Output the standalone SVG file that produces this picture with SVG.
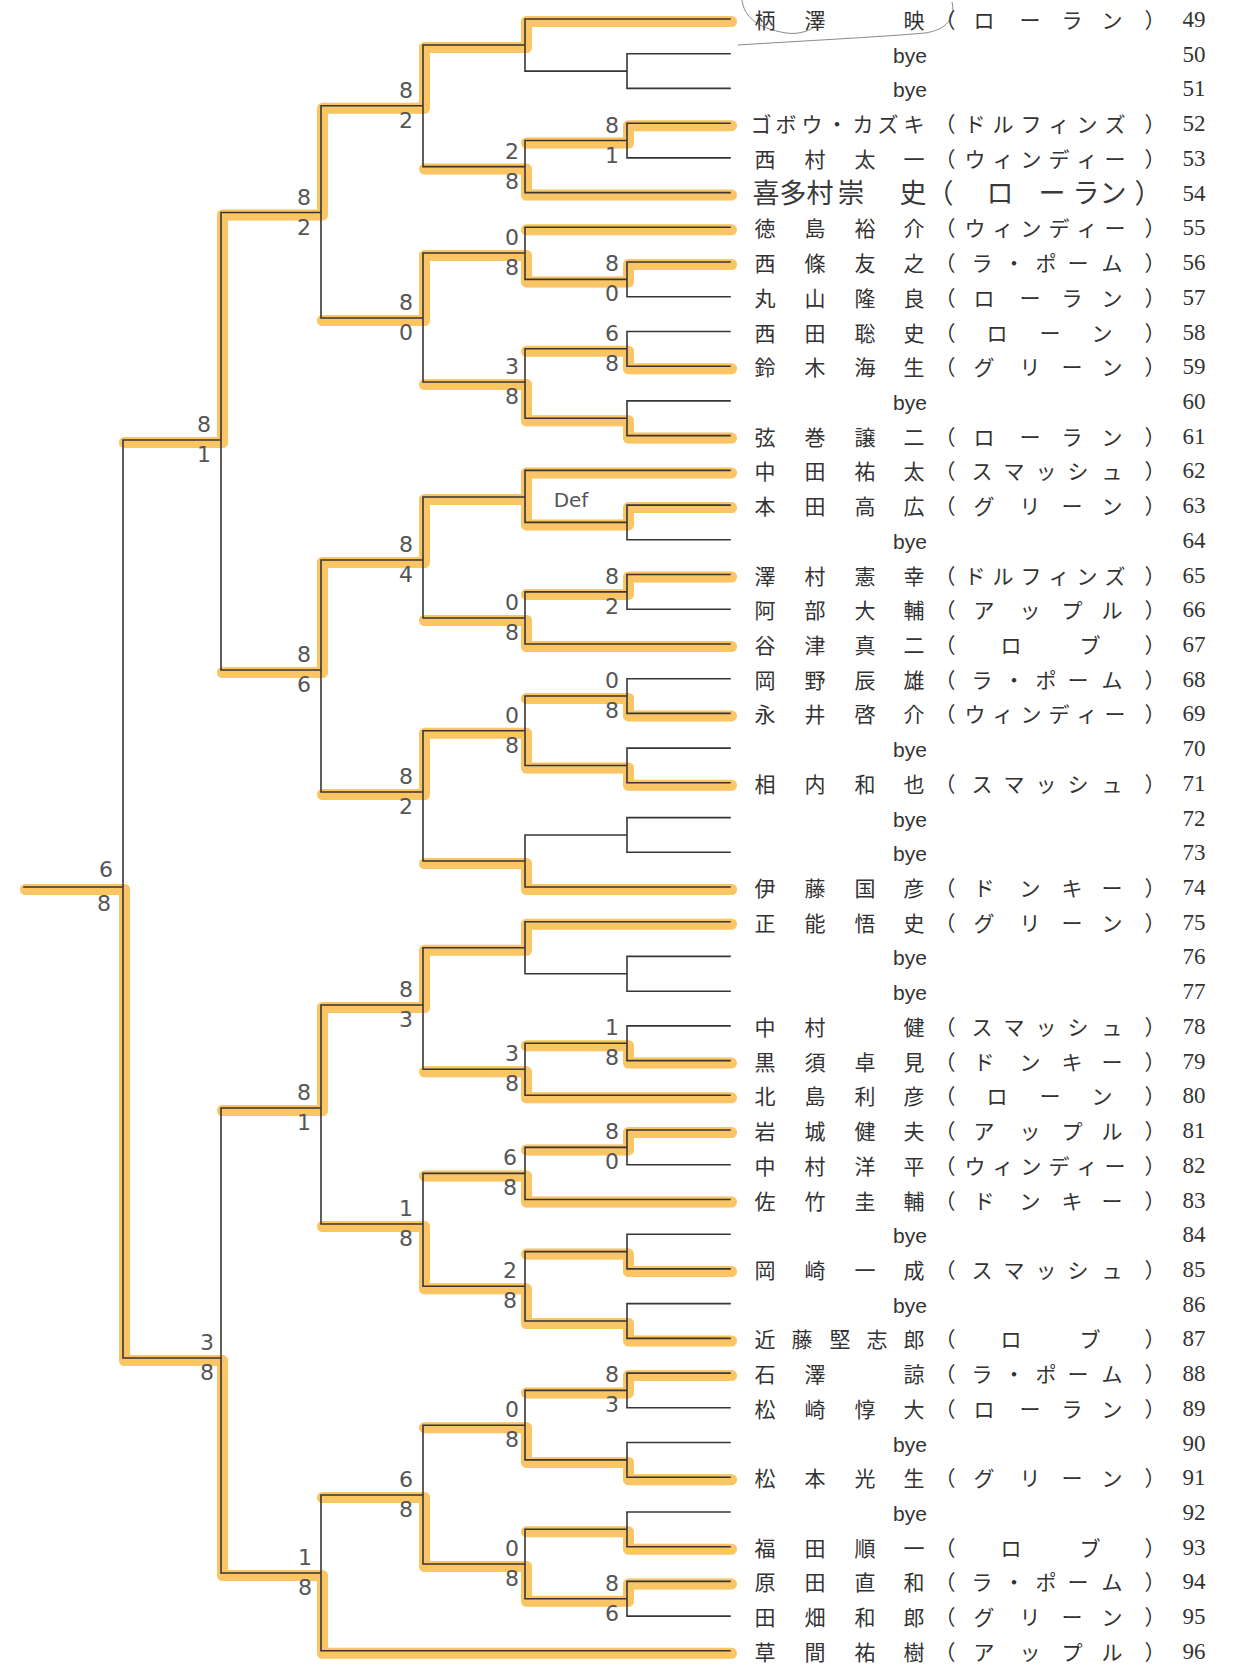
<svg xmlns="http://www.w3.org/2000/svg" width="1233" height="1668" viewBox="0 0 1233 1668">
<style>
.hl1{fill:none;stroke:#F7B231;stroke-width:11;opacity:.5;stroke-linejoin:round;stroke-linecap:round}
.hl2{fill:none;stroke:#FFDF63;stroke-width:6;stroke-linejoin:round;stroke-linecap:round}
.ln{fill:none;stroke:#3a3532;stroke-width:1.6;stroke-linecap:square;stroke-linejoin:miter}
.nm,.tm{font-family:"Noto Sans CJK JP","Noto Sans CJK SC",sans-serif;font-size:21px;fill:#333;text-anchor:middle}
.hw{font-family:"Noto Sans CJK JP","Noto Sans CJK SC",sans-serif;font-size:27px;fill:#3a3a3a;text-anchor:middle}
.no{font-family:"Liberation Serif",serif;font-size:23px;fill:#333;text-anchor:middle}
.bye{font-family:"Liberation Sans",Arial,sans-serif;font-size:21px;fill:#333;text-anchor:middle}
.sc{font-family:"DejaVu Sans",sans-serif;font-size:22px;fill:#555;text-anchor:middle}
.pen{fill:none;stroke:#8a8a8a;stroke-width:1}
</style>
<rect width="1233" height="1668" fill="#fff"/>
<g id="connectors">
<g id="highlight" transform="translate(1.5,2.5)">
<path id="hlpath" class="hl1" d="M525 19H730M627 123.2H730M525 192.6H730M525 227.3H730M627 262H730M627 366.2H730M627 435.6H730M525 470.4H730M627 505.1H730M627 574.5H730M525 644H730M627 713.4H730M627 782.8H730M525 887H730M525 921.7H730M627 1060.6H730M525 1095.3H730M627 1130H730M525 1199.5H730M627 1268.9H730M627 1338.4H730M627 1373.1H730M627 1477.2H730M627 1546.7H730M627 1581.4H730M321 1650.8H730
M525 19V45M423 45H525M627 123.2V140.5M525 140.5H627M525 166.6V192.6M423 166.6H525M423 45V105.8M321 105.8H423
M627 262V279.4M525 279.4H627M525 253V279.4M423 253H525M627 348.8V366.2M525 348.8H627M627 418.3V435.6M525 418.3H627M525 382V418.3M423 382H525M423 253V318M321 318H423M321 105.8V212.5M221 212.5H321
M627 505.1V522.4M525 522.4H627M525 470.4V522.4M423 497H525M627 574.5V591.9M525 591.9H627M525 618V644M423 618H525M423 497V560M321 560H423
M627 696V713.4M525 696H627M627 765.5V782.8M525 765.5H627M525 730.8V765.5M423 730.8H525M525 861V887M423 861H525M423 730.8V792M321 792H423M321 560V670M221 670H321M221 212.5V440M123 440H221
M525 921.7V947.8M423 947.8H525M627 1043.2V1060.6M525 1043.2H627M525 1069.3V1095.3M423 1069.3H525M423 947.8V1005M321 1005H423
M627 1130V1147.4M525 1147.4H627M525 1173.4V1199.5M423 1173.4H525M627 1251.6V1268.9M525 1251.6H627M627 1321V1338.4M525 1321H627M525 1286.3V1321M423 1286.3H525M423 1224V1286.3M321 1224H423M321 1005V1108M221 1108H321
M627 1373.1V1390.4M525 1390.4H627M627 1459.9V1477.2M525 1459.9H627M525 1425.2V1459.9M423 1425.2H525M627 1529.3V1546.7M525 1529.3H627M627 1581.4V1598.8M525 1598.8H627M525 1564V1598.8M423 1564H525M423 1495V1564M321 1495H423M321 1573V1650.8M221 1573H321M221 1358V1573M123 1358H221M123 887V1358M24 887H123"/>
<use href="#hlpath" class="hl2"/>
</g>
<path id="lines" class="ln" d="M730 53.7H627V88.4H730M525 71.1H627M730 123.2H627V157.9H730M525 140.5H627M730 262H627V296.8H730M525 279.4H627M730 331.5H627V366.2H730M525 348.8H627M730 400.9H627V435.6H730M525 418.3H627M730 505.1H627V539.8H730M525 522.4H627M730 574.5H627V609.2H730M525 591.9H627M730 678.7H627V713.4H730M525 696H627M730 748.1H627V782.8H730M525 765.5H627M730 817.6H627V852.3H730M525 835H627M730 956.4H627V991.2H730M525 973.8H627M730 1025.9H627V1060.6H730M525 1043.2H627M730 1130H627V1164.8H730M525 1147.4H627M730 1234.2H627V1268.9H730M525 1251.6H627M730 1303.6H627V1338.4H730M525 1321H627M730 1373.1H627V1407.8H730M525 1390.4H627M730 1442.5H627V1477.2H730M525 1459.9H627M730 1512H627V1546.7H730M525 1529.3H627M730 1581.4H627V1616.1H730M525 1598.8H627
M730 19H525V71.1M423 45H525M525 140.5V192.6H730M423 166.6H525M730 227.3H525V279.4M423 253H525M525 348.8V418.3M423 382H525M730 470.4H525V522.4M423 497H525M525 591.9V644H730M423 618H525M525 696V765.5M423 730.8H525M525 835V887H730M423 861H525M730 921.7H525V973.8M423 947.8H525M525 1043.2V1095.3H730M423 1069.3H525M525 1147.4V1199.5H730M423 1173.4H525M525 1251.6V1321M423 1286.3H525M525 1390.4V1459.9M423 1425.2H525M525 1529.3V1598.8M423 1564H525
M423 45V166.6M321 105.8H423M423 253V382M321 318H423M423 497V618M321 560H423M423 730.8V861M321 792H423M423 947.8V1069.3M321 1005H423M423 1173.4V1286.3M321 1224H423M423 1425.2V1564M321 1495H423
M321 105.8V318M221 212.5H321M321 560V792M221 670H321M321 1005V1224M221 1108H321M321 1495V1650.8H730M221 1573H321
M221 212.5V670M123 440H221M221 1108V1573M123 1358H221M123 440V1358M24 887H123"/>
</g>
<g id="scores" class="sc">
<text x="612" y="132.5">8</text><text x="612" y="162.5">1</text>
<text x="612" y="271.4">8</text><text x="612" y="301.4">0</text>
<text x="612" y="340.8">6</text><text x="612" y="370.8">8</text>
<text x="612" y="583.9">8</text><text x="612" y="613.9">2</text>
<text x="612" y="688">0</text><text x="612" y="718">8</text>
<text x="612" y="1035.2">1</text><text x="612" y="1065.2">8</text>
<text x="612" y="1139.4">8</text><text x="612" y="1169.4">0</text>
<text x="612" y="1382.4">8</text><text x="612" y="1412.4">3</text>
<text x="612" y="1590.8">8</text><text x="612" y="1620.8">6</text>
<text x="512" y="158.6">2</text><text x="512" y="188.6">8</text>
<text x="512" y="245">0</text><text x="512" y="275">8</text>
<text x="512" y="374">3</text><text x="512" y="404">8</text>
<text x="512" y="610">0</text><text x="512" y="640">8</text>
<text x="512" y="722.8">0</text><text x="512" y="752.8">8</text>
<text x="512" y="1061.3">3</text><text x="512" y="1091.3">8</text>
<text x="510" y="1165.4">6</text><text x="510" y="1195.4">8</text>
<text x="510" y="1278.3">2</text><text x="510" y="1308.3">8</text>
<text x="512" y="1417.2">0</text><text x="512" y="1447.2">8</text>
<text x="512" y="1556">0</text><text x="512" y="1586">8</text>
<text x="406" y="97.8">8</text><text x="406" y="127.8">2</text>
<text x="406" y="310">8</text><text x="406" y="340">0</text>
<text x="406" y="552">8</text><text x="406" y="582">4</text>
<text x="406" y="784">8</text><text x="406" y="814">2</text>
<text x="406" y="997">8</text><text x="406" y="1027">3</text>
<text x="406" y="1216">1</text><text x="406" y="1246">8</text>
<text x="406" y="1487">6</text><text x="406" y="1517">8</text>
<text x="304" y="204.5">8</text><text x="304" y="234.5">2</text>
<text x="304" y="662">8</text><text x="304" y="692">6</text>
<text x="304" y="1100">8</text><text x="304" y="1130">1</text>
<text x="305" y="1565">1</text><text x="305" y="1595">8</text>
<text x="204" y="432">8</text><text x="204" y="462">1</text>
<text x="207" y="1350">3</text><text x="207" y="1380">8</text>
<text x="106" y="877">6</text><text x="104" y="911">8</text>
<text x="571" y="507" font-size="20">Def</text>
</g>
<g id="pencil">
<path class="pen" d="M742 0C744 16 756 28 786 33C800 35 812 30 818 24"/>
<path class="pen" d="M738 45C800 41 880 37 925 33C946 30 956 18 952 2"/>
</g>
<g id="entries">
<g id="e49"><text class="nm" x="765 815 914" y="28">柄澤映</text><text class="tm" x="945 984 1030 1072 1112 1155" y="28">（ローラン）</text><text class="no" x="1194" y="27">49</text></g>
<g id="e50"><text class="bye" x="910" y="62.7">bye</text><text class="no" x="1194" y="61.7">50</text></g>
<g id="e51"><text class="bye" x="910" y="97.4">bye</text><text class="no" x="1194" y="96.4">51</text></g>
<g id="e52"><text class="nm" x="761 786 812 837 863 888 914" y="132.2">ゴボウ・カズキ</text><text class="tm" x="945 975 1003 1031 1059 1087 1115 1155" y="132.2">（ドルフィンズ）</text><text class="no" x="1194" y="131.2">52</text></g>
<g id="e53"><text class="nm" x="765 815 865 914" y="166.9">西村太一</text><text class="tm" x="945 975 1003 1031 1059 1087 1115 1155" y="166.9">（ウィンディー）</text><text class="no" x="1194" y="165.9">53</text></g>
<g id="e54"><text class="hw" x="766 793 820 851 913" y="203">喜多村崇史</text><text class="hw" x="940 1000 1052 1086 1113 1148" y="203">（ローラン）</text><text class="no" x="1194" y="200.6">54</text></g>
<g id="e55"><text class="nm" x="765 815 865 914" y="236.3">徳島裕介</text><text class="tm" x="945 975 1003 1031 1059 1087 1115 1155" y="236.3">（ウィンディー）</text><text class="no" x="1194" y="235.3">55</text></g>
<g id="e56"><text class="nm" x="765 815 865 914" y="271">西條友之</text><text class="tm" x="945 982 1014 1046 1078 1112 1155" y="271">（ラ・ポーム）</text><text class="no" x="1194" y="270">56</text></g>
<g id="e57"><text class="nm" x="765 815 865 914" y="305.8">丸山隆良</text><text class="tm" x="945 984 1030 1072 1112 1155" y="305.8">（ローラン）</text><text class="no" x="1194" y="304.8">57</text></g>
<g id="e58"><text class="nm" x="765 815 865 914" y="340.5">西田聡史</text><text class="tm" x="945 997 1050 1102 1155" y="340.5">（ローン）</text><text class="no" x="1194" y="339.5">58</text></g>
<g id="e59"><text class="nm" x="765 815 865 914" y="375.2">鈴木海生</text><text class="tm" x="945 984 1030 1072 1112 1155" y="375.2">（グリーン）</text><text class="no" x="1194" y="374.2">59</text></g>
<g id="e60"><text class="bye" x="910" y="409.9">bye</text><text class="no" x="1194" y="408.9">60</text></g>
<g id="e61"><text class="nm" x="765 815 865 914" y="444.6">弦巻譲二</text><text class="tm" x="945 984 1030 1072 1112 1155" y="444.6">（ローラン）</text><text class="no" x="1194" y="443.6">61</text></g>
<g id="e62"><text class="nm" x="765 815 865 914" y="479.4">中田祐太</text><text class="tm" x="945 982 1014 1046 1078 1112 1155" y="479.4">（スマッシュ）</text><text class="no" x="1194" y="478.4">62</text></g>
<g id="e63"><text class="nm" x="765 815 865 914" y="514.1">本田高広</text><text class="tm" x="945 984 1030 1072 1112 1155" y="514.1">（グリーン）</text><text class="no" x="1194" y="513.1">63</text></g>
<g id="e64"><text class="bye" x="910" y="548.8">bye</text><text class="no" x="1194" y="547.8">64</text></g>
<g id="e65"><text class="nm" x="765 815 865 914" y="583.5">澤村憲幸</text><text class="tm" x="945 975 1003 1031 1059 1087 1115 1155" y="583.5">（ドルフィンズ）</text><text class="no" x="1194" y="582.5">65</text></g>
<g id="e66"><text class="nm" x="765 815 865 914" y="618.2">阿部大輔</text><text class="tm" x="945 984 1030 1072 1112 1155" y="618.2">（アップル）</text><text class="no" x="1194" y="617.2">66</text></g>
<g id="e67"><text class="nm" x="765 815 865 914" y="653">谷津真二</text><text class="tm" x="945 1011 1090 1155" y="653">（ロブ）</text><text class="no" x="1194" y="652">67</text></g>
<g id="e68"><text class="nm" x="765 815 865 914" y="687.7">岡野辰雄</text><text class="tm" x="945 982 1014 1046 1078 1112 1155" y="687.7">（ラ・ポーム）</text><text class="no" x="1194" y="686.7">68</text></g>
<g id="e69"><text class="nm" x="765 815 865 914" y="722.4">永井啓介</text><text class="tm" x="945 975 1003 1031 1059 1087 1115 1155" y="722.4">（ウィンディー）</text><text class="no" x="1194" y="721.4">69</text></g>
<g id="e70"><text class="bye" x="910" y="757.1">bye</text><text class="no" x="1194" y="756.1">70</text></g>
<g id="e71"><text class="nm" x="765 815 865 914" y="791.8">相内和也</text><text class="tm" x="945 982 1014 1046 1078 1112 1155" y="791.8">（スマッシュ）</text><text class="no" x="1194" y="790.8">71</text></g>
<g id="e72"><text class="bye" x="910" y="826.6">bye</text><text class="no" x="1194" y="825.6">72</text></g>
<g id="e73"><text class="bye" x="910" y="861.3">bye</text><text class="no" x="1194" y="860.3">73</text></g>
<g id="e74"><text class="nm" x="765 815 865 914" y="896">伊藤国彦</text><text class="tm" x="945 984 1030 1072 1112 1155" y="896">（ドンキー）</text><text class="no" x="1194" y="895">74</text></g>
<g id="e75"><text class="nm" x="765 815 865 914" y="930.7">正能悟史</text><text class="tm" x="945 984 1030 1072 1112 1155" y="930.7">（グリーン）</text><text class="no" x="1194" y="929.7">75</text></g>
<g id="e76"><text class="bye" x="910" y="965.4">bye</text><text class="no" x="1194" y="964.4">76</text></g>
<g id="e77"><text class="bye" x="910" y="1000.2">bye</text><text class="no" x="1194" y="999.2">77</text></g>
<g id="e78"><text class="nm" x="765 815 914" y="1034.9">中村健</text><text class="tm" x="945 982 1014 1046 1078 1112 1155" y="1034.9">（スマッシュ）</text><text class="no" x="1194" y="1033.9">78</text></g>
<g id="e79"><text class="nm" x="765 815 865 914" y="1069.6">黒須卓見</text><text class="tm" x="945 984 1030 1072 1112 1155" y="1069.6">（ドンキー）</text><text class="no" x="1194" y="1068.6">79</text></g>
<g id="e80"><text class="nm" x="765 815 865 914" y="1104.3">北島利彦</text><text class="tm" x="945 997 1050 1102 1155" y="1104.3">（ローン）</text><text class="no" x="1194" y="1103.3">80</text></g>
<g id="e81"><text class="nm" x="765 815 865 914" y="1139">岩城健夫</text><text class="tm" x="945 984 1030 1072 1112 1155" y="1139">（アップル）</text><text class="no" x="1194" y="1138">81</text></g>
<g id="e82"><text class="nm" x="765 815 865 914" y="1173.8">中村洋平</text><text class="tm" x="945 975 1003 1031 1059 1087 1115 1155" y="1173.8">（ウィンディー）</text><text class="no" x="1194" y="1172.8">82</text></g>
<g id="e83"><text class="nm" x="765 815 865 914" y="1208.5">佐竹圭輔</text><text class="tm" x="945 984 1030 1072 1112 1155" y="1208.5">（ドンキー）</text><text class="no" x="1194" y="1207.5">83</text></g>
<g id="e84"><text class="bye" x="910" y="1243.2">bye</text><text class="no" x="1194" y="1242.2">84</text></g>
<g id="e85"><text class="nm" x="765 815 865 914" y="1277.9">岡崎一成</text><text class="tm" x="945 982 1014 1046 1078 1112 1155" y="1277.9">（スマッシュ）</text><text class="no" x="1194" y="1276.9">85</text></g>
<g id="e86"><text class="bye" x="910" y="1312.6">bye</text><text class="no" x="1194" y="1311.6">86</text></g>
<g id="e87"><text class="nm" x="765 802 840 877 914" y="1347.4">近藤堅志郎</text><text class="tm" x="945 1011 1090 1155" y="1347.4">（ロブ）</text><text class="no" x="1194" y="1346.4">87</text></g>
<g id="e88"><text class="nm" x="765 815 914" y="1382.1">石澤諒</text><text class="tm" x="945 982 1014 1046 1078 1112 1155" y="1382.1">（ラ・ポーム）</text><text class="no" x="1194" y="1381.1">88</text></g>
<g id="e89"><text class="nm" x="765 815 865 914" y="1416.8">松崎惇大</text><text class="tm" x="945 984 1030 1072 1112 1155" y="1416.8">（ローラン）</text><text class="no" x="1194" y="1415.8">89</text></g>
<g id="e90"><text class="bye" x="910" y="1451.5">bye</text><text class="no" x="1194" y="1450.5">90</text></g>
<g id="e91"><text class="nm" x="765 815 865 914" y="1486.2">松本光生</text><text class="tm" x="945 984 1030 1072 1112 1155" y="1486.2">（グリーン）</text><text class="no" x="1194" y="1485.2">91</text></g>
<g id="e92"><text class="bye" x="910" y="1521">bye</text><text class="no" x="1194" y="1520">92</text></g>
<g id="e93"><text class="nm" x="765 815 865 914" y="1555.7">福田順一</text><text class="tm" x="945 1011 1090 1155" y="1555.7">（ロブ）</text><text class="no" x="1194" y="1554.7">93</text></g>
<g id="e94"><text class="nm" x="765 815 865 914" y="1590.4">原田直和</text><text class="tm" x="945 982 1014 1046 1078 1112 1155" y="1590.4">（ラ・ポーム）</text><text class="no" x="1194" y="1589.4">94</text></g>
<g id="e95"><text class="nm" x="765 815 865 914" y="1625.1">田畑和郎</text><text class="tm" x="945 984 1030 1072 1112 1155" y="1625.1">（グリーン）</text><text class="no" x="1194" y="1624.1">95</text></g>
<g id="e96"><text class="nm" x="765 815 865 914" y="1659.8">草間祐樹</text><text class="tm" x="945 984 1030 1072 1112 1155" y="1659.8">（アップル）</text><text class="no" x="1194" y="1658.8">96</text></g>
</g>
</svg>
